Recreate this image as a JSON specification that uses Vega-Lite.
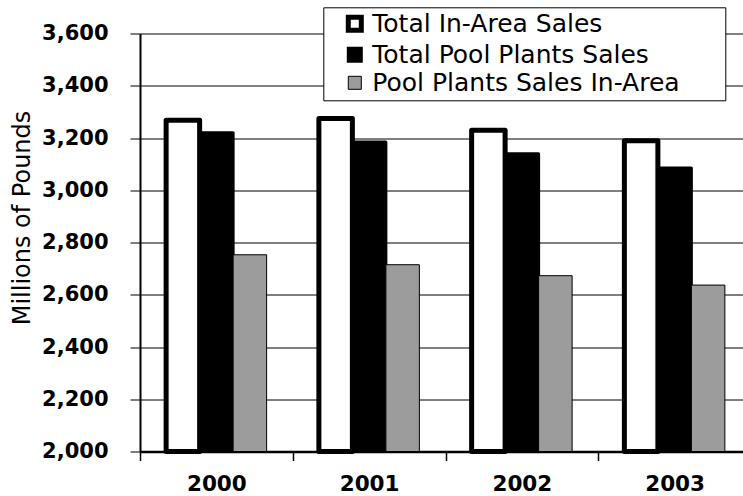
{
  "$schema": "https://vega.github.io/schema/vega-lite/v6.json",
  "width": 603,
  "height": 418,
  "autosize": {"type": "none"},
  "padding": {"left": 140, "top": 33.5, "right": 0, "bottom": 44.5},
  "background": "white",
  "config": {"view": {"stroke": null}, "font": "DejaVu Sans"},
  "data": {
    "values": [
      {"year": "2000", "series": "Total In-Area Sales", "value": 3268},
      {"year": "2000", "series": "Total Pool Plants Sales", "value": 3220},
      {"year": "2000", "series": "Pool Plants Sales In-Area", "value": 2753},
      {"year": "2001", "series": "Total In-Area Sales", "value": 3275},
      {"year": "2001", "series": "Total Pool Plants Sales", "value": 3185},
      {"year": "2001", "series": "Pool Plants Sales In-Area", "value": 2715},
      {"year": "2002", "series": "Total In-Area Sales", "value": 3230},
      {"year": "2002", "series": "Total Pool Plants Sales", "value": 3140},
      {"year": "2002", "series": "Pool Plants Sales In-Area", "value": 2673},
      {"year": "2003", "series": "Total In-Area Sales", "value": 3189},
      {"year": "2003", "series": "Total Pool Plants Sales", "value": 3085},
      {"year": "2003", "series": "Pool Plants Sales In-Area", "value": 2637}
    ]
  },
  "mark": {"type": "bar", "stroke": "black", "strokeJoin": "round"},
  "encoding": {
    "x": {
      "field": "year",
      "type": "nominal",
      "scale": {"range": [0, 611], "paddingInner": 0, "paddingOuter": 0},
      "axis": {
        "title": null,
        "labelAngle": 0,
        "tickBand": "extent",
        "tickSize": 9,
        "tickColor": "black",
        "tickWidth": 1.5,
        "domainColor": "black",
        "domainWidth": 2.5,
        "labelPadding": 13,
        "labelFontSize": 21.5,
        "labelFontWeight": "bold",
        "labelColor": "black",
        "grid": false
      }
    },
    "xOffset": {
      "field": "series",
      "type": "nominal",
      "sort": ["Total In-Area Sales", "Total Pool Plants Sales", "Pool Plants Sales In-Area"],
      "scale": {"paddingInner": 0, "paddingOuter": 0.78}
    },
    "y": {
      "field": "value",
      "type": "quantitative",
      "scale": {"domain": [2000, 3600], "nice": false, "zero": false},
      "axis": {
        "values": [2000, 2200, 2400, 2600, 2800, 3000, 3200, 3400, 3600],
        "format": ",.0f",
        "title": "Millions of Pounds",
        "titleFontSize": 24,
        "titleFontWeight": "normal",
        "titleColor": "black",
        "titleX": -111,
        "titleY": 184,
        "titleAngle": -90,
        "titleAlign": "center",
        "titleBaseline": "alphabetic",
        "labelFontSize": 21,
        "labelFontWeight": "bold",
        "labelColor": "black",
        "labelPadding": 22,
        "tickSize": 10,
        "tickColor": "black",
        "domainColor": "black",
        "domainWidth": 2,
        "grid": true,
        "gridColor": "black",
        "gridWidth": 1
      }
    },
    "y2": {"datum": 2000},
    "fill": {
      "field": "series",
      "type": "nominal",
      "scale": {
        "domain": ["Total In-Area Sales", "Total Pool Plants Sales", "Pool Plants Sales In-Area"],
        "range": ["white", "black", "#9c9c9c"]
      },
      "legend": {
        "orient": "none",
        "legendX": 183.3,
        "legendY": -26.2,
        "title": "\u00a0",
        "titleOrient": "right",
        "titlePadding": 42,
        "titleFontSize": 8,
        "direction": "vertical",
        "fillColor": "white",
        "strokeColor": "black",
        "padding": 4,
        "rowPadding": 2,
        "symbolType": "square",
        "symbolSize": 169,
        "symbolStrokeColor": "black",
        "symbolStrokeWidth": 3,
        "symbolOffset": 15,
        "labelOffset": 5,
        "labelFontSize": 25,
        "labelColor": "black",
        "labelLimit": 500
      }
    },
    "strokeWidth": {
      "field": "series",
      "type": "nominal",
      "scale": {
        "domain": ["Total In-Area Sales", "Total Pool Plants Sales", "Pool Plants Sales In-Area"],
        "range": [5, 1, 2]
      },
      "legend": null
    }
  }
}
